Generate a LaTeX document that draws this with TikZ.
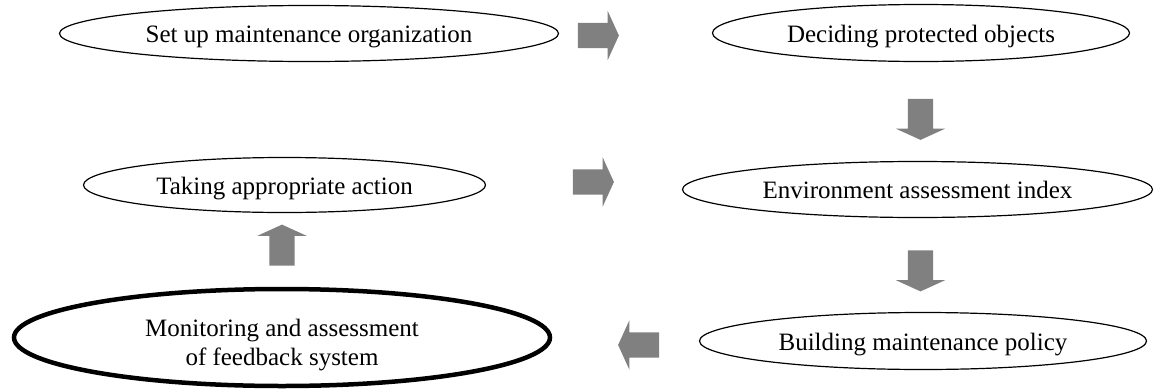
\documentclass[tikz,border=0pt]{standalone}
\usepackage{fontspec}
\setmainfont{Liberation Serif}
\usetikzlibrary{shapes.geometric,shapes.arrows}
\definecolor{arrowgray}{RGB}{128,128,128}
\begin{document}
\begin{tikzpicture}[x=1pt,y=-1pt,font=\fontsize{25}{29}\selectfont,
  stage/.style={ellipse,draw,line width=1.2pt,inner sep=0pt,text height=18pt,text depth=0pt},
  blockarrow/.style={single arrow,fill=arrowgray,draw=none,inner sep=0pt,inner ysep=12.5pt,
    minimum height=41pt,single arrow head extend=12pt,single arrow tip angle=131}]
\useasboundingbox (0,0) rectangle (1154,391);
\node[stage,minimum width=499pt,minimum height=56pt] (setup) at (309,33.5) {Set up maintenance organization};
\node[stage,minimum width=417pt,minimum height=57pt] (decide) at (921,33) {Deciding protected objects};
\node[stage,minimum width=470pt,minimum height=56pt] (envindex) at (917.5,189.5) {Environment assessment index};
\node[stage,minimum width=402pt,minimum height=55pt] (action) at (284.5,185) {Taking appropriate action};
\node[stage,minimum width=447pt,minimum height=57pt] (policy) at (923,341) {Building maintenance policy};
\node[stage,line width=4.5pt,minimum width=536pt,minimum height=97pt,text height=27pt] (monitor) at (282,337.5)
  {\begin{tabular}{@{}c@{}}Monitoring and assessment\\of feedback system\end{tabular}};
\node[blockarrow] (a1) at (595.5,35.5) {};
\node[blockarrow,rotate=-90] (a2) at (920.5,116.5) {};
\node[blockarrow,rotate=-90] (a3) at (920.5,268) {};
\node[blockarrow,rotate=180] (a4) at (641.5,345) {};
\node[blockarrow,rotate=90] (a5) at (282,248) {};
\node[blockarrow] (a6) at (590.5,182) {};
\end{tikzpicture}
\end{document}
